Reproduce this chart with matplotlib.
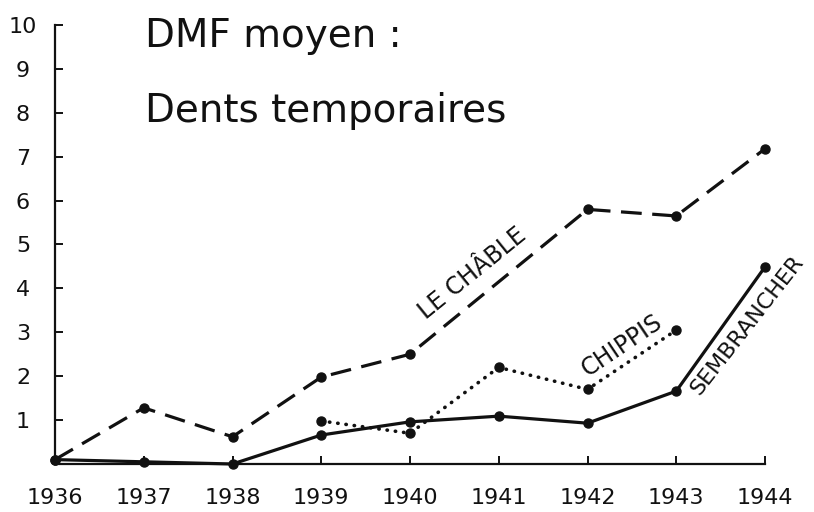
import matplotlib
matplotlib.use("Agg")
import matplotlib.pyplot as plt

# Années et valeurs DMF moyen (dents temporaires)
annees = [1936, 1937, 1938, 1939, 1940, 1941, 1942, 1943, 1944]

annees_chable = [1936, 1937, 1938, 1939, 1940, 1942, 1943, 1944]
le_chable = [0.1, 1.28, 0.62, 1.98, 2.5, 5.8, 5.65, 7.18]

sembrancher = [0.1, 0.05, 0.0, 0.66, 0.96, 1.09, 0.93, 1.66, 4.49]

annees_chippis = [1939, 1940, 1941, 1942, 1943]
chippis = [0.98, 0.7, 2.2, 1.7, 3.05]

y_ticks = list(range(1, 11))

encre = "#111111"

fig = plt.figure(figsize=(8.14, 5.12), dpi=100)
ax = fig.add_axes([55 / 814, 48 / 512, 710 / 814, 439 / 512])

# Le Châble (tirets)
ax.plot(annees_chable, le_chable, color=encre, lw=2.3, linestyle=(0, (6.5, 3.3)),
        marker="o", ms=6.5, clip_on=False)

# Sembrancher (trait plein)
ax.plot(annees, sembrancher, color=encre, lw=2.3, marker="o", ms=6.5, clip_on=False)

# Chippis (pointillés)
ax.plot(annees_chippis, chippis, color=encre, lw=2.6, linestyle=(0, (0.1, 2.2)),
        dash_capstyle="round", clip_on=False)
ax.plot(annees_chippis, chippis, color=encre, lw=0, marker="o", ms=6.5, clip_on=False)

# Axes
ax.set_xlim(1936, 1944)
ax.set_ylim(0, 10)
ax.spines["top"].set_visible(False)
ax.spines["right"].set_visible(False)
ax.spines["left"].set_linewidth(1.6)
ax.spines["bottom"].set_linewidth(1.6)
ax.spines["left"].set_color(encre)
ax.spines["bottom"].set_color(encre)

ax.set_xticks(annees)
ax.set_yticks(y_ticks)
ax.tick_params(axis="both", direction="in", length=6, width=1.4, color=encre,
               labelsize=16, labelcolor=encre)
ax.tick_params(axis="x", pad=17)
ax.tick_params(axis="y", pad=23)
for lab in ax.get_yticklabels():
    lab.set_horizontalalignment("center")

# Titre
fig.text(145 / 814, 1 - 47 / 512, "DMF moyen :", fontsize=28, color=encre,
         va="baseline", ha="left")
fig.text(145 / 814, 1 - 122 / 512, "Dents temporaires", fontsize=28, color=encre,
         va="baseline", ha="left")

# Étiquettes des courbes
ax.text(1940.70, 4.35, "LE CHÂBLE", fontsize=17, color=encre, rotation=39,
        ha="center", va="center", rotation_mode="anchor")
ax.text(1942.39, 2.71, "CHIPPIS", fontsize=17, color=encre, rotation=34,
        ha="center", va="center", rotation_mode="anchor")
ax.text(1943.80, 3.15, "SEMBRANCHER", fontsize=16, color=encre, rotation=52,
        ha="center", va="center", rotation_mode="anchor")

fig.savefig("out.png", dpi=100, facecolor="white")
